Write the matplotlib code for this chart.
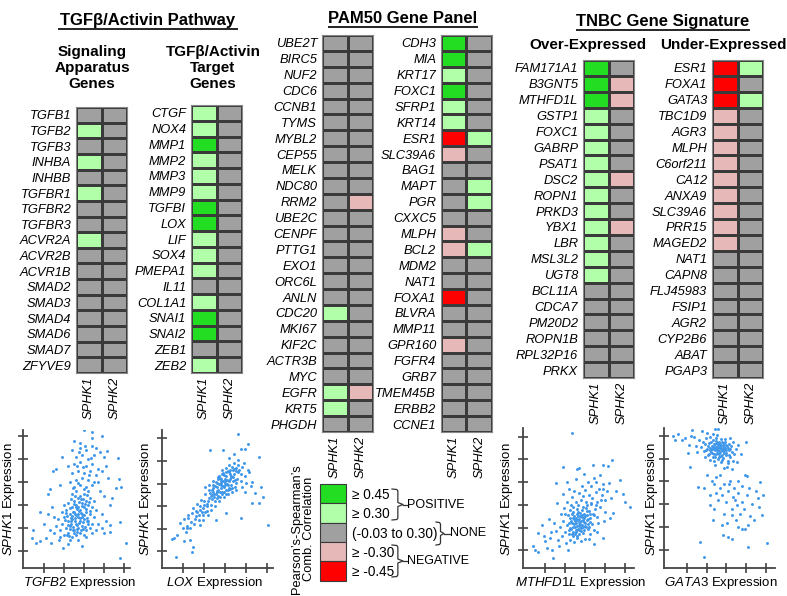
import numpy as np
import matplotlib
matplotlib.use("Agg")
import matplotlib.pyplot as plt
from matplotlib.colors import ListedColormap, BoundaryNorm
from matplotlib.patches import Rectangle

plt.rcParams['font.family'] = ['Liberation Sans', 'DejaVu Sans']
plt.rcParams['mathtext.fontset'] = 'custom'
plt.rcParams['mathtext.rm'] = 'Liberation Sans'
plt.rcParams['mathtext.it'] = 'Liberation Sans:italic'
plt.rcParams['mathtext.bf'] = 'Liberation Sans:bold'

# ---------------- data ----------------
col_labels = ["SPHK1", "SPHK2"]

sig_genes = ["TGFB1", "TGFB2", "TGFB3", "INHBA", "INHBB", "TGFBR1", "TGFBR2", "TGFBR3",
             "ACVR2A", "ACVR2B", "ACVR1B", "SMAD2", "SMAD3", "SMAD4", "SMAD6", "SMAD7", "ZFYVE9"]
sig_sphk1 = [0, 1, 0, 1, 0, 1, 0, 0, 1, 0, 0, 0, 0, 0, 0, 0, 0]
sig_sphk2 = [0, 0, 0, 0, 0, 0, 0, 0, 0, 0, 0, 0, 0, 0, 0, 0, 0]

tgt_genes = ["CTGF", "NOX4", "MMP1", "MMP2", "MMP3", "MMP9", "TGFBI", "LOX", "LIF", "SOX4",
             "PMEPA1", "IL11", "COL1A1", "SNAI1", "SNAI2", "ZEB1", "ZEB2"]
tgt_sphk1 = [1, 1, 2, 1, 1, 1, 2, 2, 1, 1, 1, 0, 1, 2, 2, 0, 1]
tgt_sphk2 = [0, 0, 0, 0, 0, 0, 0, 0, 0, 0, 0, 0, 0, 0, 0, 0, 0]

pam_a_genes = ["UBE2T", "BIRC5", "NUF2", "CDC6", "CCNB1", "TYMS", "MYBL2", "CEP55", "MELK",
               "NDC80", "RRM2", "UBE2C", "CENPF", "PTTG1", "EXO1", "ORC6L", "ANLN", "CDC20",
               "MKI67", "KIF2C", "ACTR3B", "MYC", "EGFR", "KRT5", "PHGDH"]
pam_a_sphk1 = [0, 0, 0, 0, 0, 0, 0, 0, 0, 0, 0, 0, 0, 0, 0, 0, 0, 1, 0, 0, 0, 0, 1, 1, 0]
pam_a_sphk2 = [0, 0, 0, 0, 0, 0, 0, 0, 0, 0, -1, 0, 0, 0, 0, 0, 0, 0, 0, 0, 0, 0, -1, 0, 0]

pam_b_genes = ["CDH3", "MIA", "KRT17", "FOXC1", "SFRP1", "KRT14", "ESR1", "SLC39A6", "BAG1",
               "MAPT", "PGR", "CXXC5", "MLPH", "BCL2", "MDM2", "NAT1", "FOXA1", "BLVRA",
               "MMP11", "GPR160", "FGFR4", "GRB7", "TMEM45B", "ERBB2", "CCNE1"]
pam_b_sphk1 = [2, 2, 1, 2, 1, 1, -2, -1, 0, 0, 0, 0, -1, -1, 0, 0, -2, 0, 0, -1, 0, 0, 0, 0, 0]
pam_b_sphk2 = [0, 0, 0, 0, 0, 0, 1, 0, 0, 1, 1, 0, 0, 1, 0, 0, 0, 0, 0, 0, 0, 0, 0, 0, 0]

over_genes = ["FAM171A1", "B3GNT5", "MTHFD1L", "GSTP1", "FOXC1", "GABRP", "PSAT1", "DSC2",
              "ROPN1", "PRKD3", "YBX1", "LBR", "MSL3L2", "UGT8", "BCL11A", "CDCA7", "PM20D2",
              "ROPN1B", "RPL32P16", "PRKX"]
over_sphk1 = [2, 2, 2, 1, 1, 1, 1, 1, 1, 1, 1, 1, 1, 1, 0, 0, 0, 0, 0, 0]
over_sphk2 = [0, -1, -1, 0, 0, 0, 0, -1, 0, 0, -1, 0, 0, 0, 0, 0, 0, 0, 0, 0]

under_genes = ["ESR1", "FOXA1", "GATA3", "TBC1D9", "AGR3", "MLPH", "C6orf211", "CA12", "ANXA9",
               "SLC39A6", "PRR15", "MAGED2", "NAT1", "CAPN8", "FLJ45983", "FSIP1", "AGR2",
               "CYP2B6", "ABAT", "PGAP3"]
under_sphk1 = [-2, -2, -2, -1, -1, -1, -1, -1, -1, -1, -1, -1, 0, 0, 0, 0, 0, 0, 0, 0]
under_sphk2 = [1, 0, 1, 0, 0, 0, 0, 0, 0, 0, 0, 0, 0, 0, 0, 0, 0, 0, 0, 0]

legend_levels = [2, 1, 0, -1, -2]
legend_labels = ["\u2265 0.45", "\u2265 0.30", "(-0.03 to 0.30)", "\u2265 -0.30", "\u2265 -0.45"]
legend_groups = ["POSITIVE", "NONE", "NEGATIVE"]

# scatter points (in tick units)
tgfb2_pts = [
    (2.0,1.7),(2.2,1.8),(2.4,1.6),(2.6,1.7),(2.8,1.8),(3.0,1.7),(2.1,2.0),(2.3,2.1),(2.5,1.9),(2.7,2.0),
    (2.9,2.1),(3.1,1.9),(3.3,2.0),(1.9,2.2),(2.2,2.3),(2.4,2.4),(2.6,2.2),(2.8,2.3),(3.0,2.4),(3.2,2.3),
    (3.4,2.2),(2.0,2.5),(2.3,2.6),(2.5,2.7),(2.7,2.5),(2.9,2.6),(3.1,2.7),(3.3,2.6),(3.5,2.5),(2.1,2.8),
    (2.4,2.9),(2.6,3.0),(2.8,2.8),(3.0,2.9),(3.2,3.0),(3.4,2.9),(2.2,3.1),(2.5,3.2),(2.7,3.3),(2.9,3.1),
    (3.1,3.2),(3.3,3.3),(2.4,3.5),(2.6,3.6),(2.8,3.4),(3.0,3.5),(3.2,3.6),(1.8,1.9),(1.7,2.4),(1.9,2.7),
    (2.3,1.5),(2.7,1.5),(3.1,1.6),(3.4,1.8),(1.6,2.1),(1.5,1.8),(1.8,1.6),(2.0,3.0),(3.6,2.8),(3.5,3.2),
    (2.55,2.45),(2.75,2.75),(2.35,2.2),(2.95,2.25),(2.65,1.95),(2.45,2.05),(2.15,2.55),(3.05,3.05),
    (2.85,3.25),(2.25,1.65),(2.52,2.32),(2.68,2.62),(2.88,2.48),(2.42,2.72),(2.62,2.85),(2.32,2.42),
    (2.12,1.72),(2.28,1.95),(2.47,1.78),(2.63,2.12),(2.82,1.93),(3.02,2.05),(3.18,2.18),(2.05,2.35),
    (2.18,2.12),(2.38,2.52),(2.58,2.58),(2.78,2.42),(2.98,2.58),(3.15,2.45),(3.28,2.75),(2.08,2.68),
    (2.28,2.88),(2.48,3.05),(2.68,2.92),(2.88,2.95),(3.08,2.82),(3.22,3.15),(2.36,3.25),(2.56,3.42),
    (2.76,3.15),(2.96,3.28),(3.12,3.45),(2.62,1.82),(2.42,1.92),(2.72,2.22),(2.92,1.95),(3.12,2.32),
    (2.52,2.62),(2.32,2.32),(2.84,2.65),(2.6,2.9),(2.44,3.75),(2.7,3.95),(3.0,3.7),(3.25,4.3),
    (2.95,4.65),(2.75,5.3),(3.05,5.6),(2.65,4.7),(3.35,5.05),
    (2.5,3.8),(2.8,3.9),(3.1,3.8),(3.4,3.9),(2.6,4.1),(2.9,4.2),(3.2,4.1),(3.5,4.0),(2.4,4.4),(2.7,4.5),
    (3.0,4.4),(3.3,4.5),(3.6,4.3),(2.5,4.8),(2.8,4.9),(3.1,4.7),(3.4,4.8),(3.7,4.6),(2.6,5.1),(2.9,5.2),
    (3.2,5.0),(3.5,5.2),(2.4,5.4),(2.8,5.5),(3.1,5.4),(3.4,5.6),(2.5,5.8),(2.8,5.7),(3.0,6.3),(3.4,6.2),
    (3.4,5.95),(3.9,6.0),(3.8,5.3),(3.9,4.5),(2.3,4.0),(2.2,4.7),(3.7,4.0),(3.6,5.5),(4.0,5.1),
    (1.9,5.1),(1.45,4.5),(1.6,4.6),(1.3,3.7),(1.8,3.9),(0.8,2.7),(1.2,3.5),(0.45,1.9),(0.4,1.55),
    (0.6,1.35),(0.8,1.45),(1.1,1.55),(1.35,1.35),(1.95,1.15),(1.75,1.5),(1.0,2.2),(1.2,2.6),(1.4,2.9),
    (1.3,1.9),(1.5,2.5),(2.9,1.2),(2.2,1.3),
    (4.7,5.05),(4.15,5.35),(4.75,4.15),(4.85,3.8),(4.6,3.75),(4.3,3.0),(4.3,1.85),(4.8,2.25),(5.1,1.35),
    (4.8,0.7),(4.1,4.7),(4.3,2.15),(4.0,3.4),(3.9,2.6),(4.1,2.3),(3.8,3.6),(4.2,4.2),(3.9,2.0),(4.0,1.8),
    (3.7,2.2),(3.6,1.9),(4.4,3.3)]

lox_pts = [
    (3.65,6.2),(4.13,5.74),(3.78,5.53),(3.97,5.53),(4.65,5.16),(2.3,5.49),(2.9,5.49),(4.73,3.87),
    (4.84,3.43),(4.65,3.13),(4.29,3.13),(5.08,2.15),(3.76,2.5),(4.44,3.57),(0.48,1.56),(0.6,1.6),
    (0.71,1.74),(0.68,0.74),(1.51,1.22),(1.35,1.51),(1.19,2.03),(0.87,2.25),(1.27,2.47),(1.45,0.98),
    (1.05,1.45),(3.2,5.15),(3.45,5.3),(4.1,4.6),(4.3,4.05),(3.05,2.7),(2.6,2.4),
    (1.02,2.05),(1.08,2.42),(1.21,2.12),(1.24,2.63),(1.18,1.88),(1.38,2.31),(1.43,2.72),(1.36,2.02),
    (1.47,2.91),(1.58,2.43),(1.63,2.81),(1.55,2.21),(1.66,3.12),(1.61,2.58),(1.78,2.63),(1.83,3.02),
    (1.76,2.41),(1.87,3.28),(1.81,2.84),(1.84,2.18),(1.97,2.93),(2.03,3.21),(1.96,2.62),(2.07,3.52),
    (2.01,3.04),(1.98,2.41),(2.04,3.83),(2.17,3.03),(2.23,3.38),(2.16,2.81),(2.24,3.71),(2.19,3.22),
    (2.27,3.92),(2.21,2.63),(2.38,3.31),(2.43,3.62),(2.36,3.04),(2.44,3.93),(2.41,3.48),(2.46,4.12),
    (2.35,2.82),(2.42,3.79),(2.58,3.52),(2.63,3.83),(2.56,3.21),(2.64,4.04),(2.61,3.68),(2.66,4.31),
    (2.55,3.02),(2.62,3.61),(2.67,4.19),(2.78,3.63),(2.83,3.92),(2.76,3.41),(2.84,4.22),(2.81,3.81),
    (2.86,4.43),(2.75,3.22),(2.82,4.02),(2.87,4.62),(2.98,3.83),(3.03,4.11),(2.96,3.62),(3.04,4.33),
    (3.01,3.94),(3.06,4.52),(2.95,3.41),(3.02,4.03),(3.07,4.71),(3.18,3.92),(3.23,4.21),(3.16,3.73),
    (3.24,4.43),(3.21,4.12),(3.26,4.62),(3.15,3.52),(3.22,4.83),(3.38,4.13),(3.43,4.42),(3.36,3.82),
    (3.44,4.63),(3.41,4.31),(3.46,4.92),(3.35,3.63),(3.58,4.22),(3.63,4.53),(3.56,4.01),(3.64,4.82),
    (3.61,5.03),(3.55,3.72),(3.78,4.41),(3.83,4.72),(3.76,4.12),(3.84,3.83),(3.98,4.33),(4.03,4.02),
    (3.96,3.62),(4.18,4.52),(4.23,3.91),(2.5,3.4),(2.7,3.7),(2.9,3.9),(3.1,4.0),(3.3,4.3),(2.8,4.1),
    (3.0,4.2),(3.2,3.8),
    (2.48,3.55),(2.52,3.88),(2.68,3.45),(2.72,3.98),(2.74,4.35),(2.88,3.62),(2.92,4.12),(2.94,4.48),
    (3.08,3.72),(3.12,4.18),(3.14,4.55),(3.28,3.95),(3.32,4.35),(3.34,4.75),(3.48,4.15),(3.52,4.55),
    (2.33,3.45),(2.39,3.72),(2.57,4.08),(2.78,4.25),(2.99,4.38),(3.19,4.5),(3.39,4.6),(2.62,3.35),
    (2.85,3.55),(3.05,3.55),(3.27,3.75),(3.5,3.85),(2.15,3.1),(2.3,3.6),(1.9,2.75),(1.7,2.75),
    (2.05,2.75),(3.7,4.6),(3.9,4.9),(3.55,4.7)]

mthfd1l_pts = [
    (2.33,6.15),(4.33,4.98),(3.88,4.76),(4.75,4.1),(5.25,2.93),(5.0,3.15),(1.92,4.68),(1.55,3.95),
    (2.72,4.61),(2.6,4.6),(3.4,4.75),(4.15,4.7),(0.5,1.0),(0.42,1.18),(0.67,0.93),(1.42,0.66),
    (0.83,2.13),(0.67,1.76),(1.25,1.55),(1.33,1.03),(3.88,1.54),(3.45,1.28),(4.25,2.42),(4.42,2.65),
    (4.9,3.5),(4.55,3.6),(1.6,3.1),(1.9,3.5),(2.1,4.0),(2.2,3.7),(1.2,2.4),(1.0,1.4),
    (2.02,1.82),(2.11,2.13),(2.18,1.71),(2.23,2.41),(2.31,1.93),(2.36,2.22),(2.42,1.64),(2.47,2.53),
    (2.51,2.04),(2.56,1.83),(2.62,2.33),(2.67,2.71),(2.72,1.92),(2.77,2.18),(2.83,2.47),(2.88,1.76),
    (2.93,2.61),(2.98,2.08),(3.03,2.88),(3.08,2.32),(3.13,1.96),(3.18,2.72),(3.24,2.43),(3.29,3.03),
    (3.34,2.15),(3.39,2.62),(2.14,2.55),(2.27,2.76),(2.38,2.92),(2.53,3.11),(2.66,2.98),(2.79,3.23),
    (2.91,3.38),(3.06,3.15),(3.21,3.44),(3.36,3.32),(3.48,2.83),(3.53,3.58),(3.62,3.12),(3.71,3.71),
    (3.77,2.92),(3.84,3.42),(3.92,3.93),(4.02,3.22),(4.08,3.61),(4.18,3.98),(3.58,2.48),(3.67,2.21),
    (3.47,1.91),(3.26,1.73),(3.02,1.52),(2.81,1.41),(2.61,1.55),(2.44,1.38),(2.24,1.48),(2.04,1.32),
    (1.84,1.62),(1.74,2.01),(1.88,2.28),(1.66,1.44),(1.56,1.86),(1.46,2.21),(1.79,2.62),(1.94,2.88),
    (2.12,3.13),(2.33,3.34),(2.47,3.62),(2.71,3.52),(2.86,3.83),(3.01,3.67),(3.17,4.02),(3.32,3.82),
    (3.44,4.18),(3.57,4.01),(3.74,4.31),(2.57,4.14),(2.95,4.38),(2.46,2.37),(2.58,2.08),(2.71,2.26),
    (2.84,2.11),(2.97,2.42),(3.11,2.57),(2.69,1.71),(2.53,1.88),(2.41,2.01),(2.76,2.51),(2.89,2.33),
    (3.16,2.18),(2.96,1.88),(2.35,2.62),(2.62,2.82),(2.84,2.79),(1.32,1.82),(1.12,1.12),(0.95,1.62),
    (1.7,1.2),(2.15,1.0),(3.2,1.5),(3.6,1.8),(4.0,2.7),(3.95,2.3),(4.3,3.3),(2.25,2.0),(2.4,1.8),
    (2.55,2.2),(2.8,2.0),(3.0,2.2),(2.7,2.4),
    (2.22,1.88),(2.28,2.28),(2.34,1.74),(2.39,2.44),(2.45,2.15),(2.49,1.71),(2.54,2.41),(2.59,2.62),
    (2.64,1.96),(2.68,2.14),(2.73,2.66),(2.79,1.85),(2.81,2.31),(2.86,2.57),(2.91,2.02),(2.94,2.24),
    (3.0,2.51),(3.05,2.04),(3.09,2.72),(3.14,2.38),(3.19,2.05),(3.23,2.61),(2.5,2.3),(2.65,2.5),
    (2.9,2.9),(3.1,3.0),(3.3,3.1),(2.4,2.7),(2.2,2.2),(2.6,1.65),(2.75,2.05),(3.25,2.25),(3.45,2.55),
    (3.55,3.0),(2.3,3.0),(2.0,2.6),(3.8,3.2),(3.9,3.7)]

gata3_pts = [
    (1.72,5.51),(1.81,5.73),(1.86,5.32),(1.92,5.62),(1.97,5.88),(2.03,5.41),(2.07,5.17),(2.12,5.69),
    (2.16,5.93),(2.21,5.28),(2.26,5.55),(2.31,5.06),(2.34,5.79),(2.38,5.43),(2.42,5.62),(2.46,5.21),
    (2.49,5.91),(2.53,5.36),(2.56,5.52),(2.59,4.98),(2.62,5.74),(2.65,5.31),(2.68,5.47),(2.71,5.12),
    (2.74,5.83),(2.77,5.38),(2.81,5.59),(2.84,5.02),(2.87,5.26),(2.91,5.71),(2.94,5.44),(2.98,5.14),
    (3.02,5.53),(3.06,4.91),(3.11,5.36),(3.16,5.62),(3.21,5.08),(3.27,5.29),(3.33,4.88),(3.41,5.18),
    (3.48,5.43),(2.44,5.36),(2.58,5.44),(2.69,5.62),(2.52,5.68),(2.36,5.18),(2.82,5.31),(2.63,5.18),
    (2.48,5.49),(2.74,5.56),(2.28,5.42),(2.15,5.36),(2.95,5.85),(2.55,6.02),(2.35,6.08),(2.0,6.1),
    (3.2,5.9),(3.6,5.6),(3.75,5.2),(3.55,4.85),(2.2,4.95),(2.45,4.72),(2.75,4.85),(3.05,4.65),
    (1.9,5.05),(1.6,5.8),(1.5,5.3),(4.0,5.7),(3.3,4.55),(2.9,4.6),(2.6,5.6),(2.4,5.5),(2.85,5.45),
    (2.05,5.55),(2.18,5.48),(2.24,5.71),(2.3,5.25),(2.39,5.64),(2.44,5.08),(2.5,5.78),(2.54,5.24),
    (2.6,5.38),(2.66,5.58),(2.7,5.28),(2.76,5.7),(2.8,5.15),(2.86,5.52),(2.9,5.36),(2.96,5.6),
    (3.0,5.24),(3.08,5.46),(3.14,5.16),(3.2,5.4),(2.34,5.52),(2.56,5.62),(2.72,5.41),(2.88,5.68),
    (2.46,5.44),(2.62,5.05),(2.98,5.38),(3.25,5.55),(2.1,5.2),(1.95,5.35),(3.35,5.7),(2.4,4.9),
    (2.8,4.95),(3.1,4.8),
    (0.41,5.81),(0.58,6.06),(0.33,5.96),(0.75,5.82),(1.25,6.25),(1.76,6.2),(2.43,6.29),(2.6,6.28),
    (1.08,5.23),(1.17,4.64),(1.1,5.6),(1.35,5.95),(1.45,5.55),(1.2,6.0),(0.9,5.9),
    (2.0,4.28),(2.68,3.7),(3.35,3.33),(4.03,3.4),(4.7,3.99),(4.87,3.4),(4.66,2.9),(4.78,2.53),
    (2.18,2.97),(2.4,2.8),(2.34,2.31),(2.76,2.09),(2.85,1.66),(3.1,1.58),(3.27,1.51),(3.77,1.95),
    (3.94,1.95),(4.1,2.1),(1.59,3.77),(1.85,3.7),(1.67,1.36),(1.89,0.71),(4.1,1.15),(5.07,1.34),
    (3.27,2.53),(3.52,2.97),(3.94,4.28),(4.03,4.26),(2.3,4.0),(2.5,4.2),(2.7,4.3),(2.9,3.9),
    (3.1,3.6),(3.2,4.0),(3.4,3.7),(3.6,3.5),(3.8,3.1),(3.7,2.6),(3.0,3.1),(3.3,2.8),(3.5,2.3),
    (2.6,3.2),(2.9,2.6),(3.6,2.0),(4.3,3.0),(4.5,3.6),(4.2,2.5),(4.4,2.3),(3.9,2.8),(4.6,3.3),
    (2.5,3.5),(2.8,3.4),(3.15,3.9),(3.45,3.2),(3.05,2.2),(3.8,3.8),(4.15,3.7),(2.4,3.9),(2.2,3.4),
    (3.6,4.0)]

# ---------------- styling ----------------
W, H = 787, 596
fig = plt.figure(figsize=(W / 100, H / 100), dpi=100)

level_colors = ['#ff0000', '#e6b8b8', '#a0a0a0', '#b2ffaa', '#22dd22']
cmap = ListedColormap(level_colors)
norm = BoundaryNorm([-2.5, -1.5, -0.5, 0.5, 1.5, 2.5], 5)
level_to_color = {-2: level_colors[0], -1: level_colors[1], 0: level_colors[2],
                  1: level_colors[3], 2: level_colors[4]}
GENE_FS = 9.3


def px_axes(x0, y0, x1, y1):
    return fig.add_axes([x0 / W, 1 - y1 / H, (x1 - x0) / W, (y1 - y0) / H])


ov = fig.add_axes([0, 0, 1, 1])
ov.set_xlim(0, W)
ov.set_ylim(H, 0)
ov.axis('off')


def heatmap(rect, genes, s1, s2):
    ax = px_axes(*rect)
    vals = np.array([s1, s2]).T
    n = len(genes)
    ax.pcolormesh(np.arange(3), np.arange(n + 1), vals, cmap=cmap, norm=norm,
                  edgecolors='#3a3a3a', linewidth=0.8)
    ax.set_xlim(0, 2)
    ax.set_ylim(n, 0)
    ax.set_yticks(np.arange(n) + 0.5)
    ax.set_yticklabels(genes, fontsize=GENE_FS, style='italic')
    ax.set_xticks([0.5, 1.5])
    ax.set_xticklabels(col_labels, rotation=90, fontsize=GENE_FS, style='italic', va='top')
    ax.tick_params(axis='y', length=0, pad=3.5)
    ax.tick_params(axis='x', length=0, pad=3)
    for sp in ax.spines.values():
        sp.set_color('#888888')
        sp.set_linewidth(0.8)
    return ax


heatmap((76, 107, 127, 373), sig_genes, sig_sphk1, sig_sphk2)
heatmap((191, 105, 242, 373), tgt_genes, tgt_sphk1, tgt_sphk2)
heatmap((322, 35, 373, 432), pam_a_genes, pam_a_sphk1, pam_a_sphk2)
heatmap((441, 35, 492, 432), pam_b_genes, pam_b_sphk1, pam_b_sphk2)
heatmap((583, 60, 634, 378), over_genes, over_sphk1, over_sphk2)
heatmap((712, 60, 763, 378), under_genes, under_sphk1, under_sphk2)


def scatter(rect, xlim, ylim, pts):
    ax = px_axes(*rect)
    x, y = zip(*pts)
    ax.scatter(x, y, s=4.5, color='#3f97e9', linewidths=0)
    ax.set_xlim(*xlim)
    ax.set_ylim(*ylim)
    ax.set_xticks([1, 2, 3, 4, 5])
    ax.set_yticks([1, 2, 3, 4, 5, 6])
    ax.set_xticklabels([])
    ax.set_yticklabels([])
    ax.tick_params(direction='inout', length=7, width=1.2, color='#444444')
    ax.spines['top'].set_visible(False)
    ax.spines['right'].set_visible(False)
    for s in ('left', 'bottom'):
        ax.spines[s].set_color('#444444')
        ax.spines[s].set_linewidth(1.3)
    ax.patch.set_alpha(0)
    return ax


scatter((23.3, 430, 130, 568), (-0.05, 5.29), (0.26, 6.28), tgfb2_pts)
scatter((161.7, 430, 273, 568), (0.0, 5.3), (0.27, 6.37), lox_pts)
scatter((523.3, 428, 634, 568), (-0.08, 5.45), (0.23, 6.38), mthfd1l_pts)
scatter((664, 428, 775, 568), (-0.15, 5.46), (0.23, 6.33), gata3_pts)

# scatter axis labels
for xc in (9, 146, 507, 652):
    ov.text(xc, 499, r"$\mathit{SPHK1}$ Expression", rotation=90, ha='center', va='center', fontsize=9.5)
for xc, gname in ((80, "TGFB2"), (214, "LOX"), (581, "MTHFD1L"), (721, "GATA3")):
    ov.text(xc, 583, r"$\mathit{" + gname + r"}$ Expression", ha='center', va='center', fontsize=9.5)

# titles
for (x0, x1, yt, yu, txt) in ((58, 238, 20.5, 29, "TGF\u03b2/Activin Pathway"),
                              (328, 478, 18.5, 27, "PAM50 Gene Panel"),
                              (576, 750, 21.5, 30, "TNBC Gene Signature")):
    ov.text((x0 + x1) / 2, yt, txt, ha='center', va='center', fontsize=12, fontweight='bold')
    ov.plot([x0, x1], [yu, yu], color='black', lw=1.2, solid_capstyle='butt')

ov.text(92, 68, "Signaling\nApparatus\nGenes", ha='center', va='center', fontsize=11,
        fontweight='bold', linespacing=1.15)
ov.text(213, 68, "TGF\u03b2/Activin\nTarget\nGenes", ha='center', va='center', fontsize=11,
        fontweight='bold', linespacing=1.15)
ov.text(588, 45, "Over-Expressed", ha='center', va='center', fontsize=11, fontweight='bold')
ov.text(723, 45, "Under-Expressed", ha='center', va='center', fontsize=11, fontweight='bold')

# legend
box_x0, box_x1 = 319.5, 346
box_tops = [484, 503.3, 522.6, 541.9, 561.2]
box_h = 19.3
for lvl, lab, top in zip(legend_levels, legend_labels, box_tops):
    ov.add_patch(Rectangle((box_x0, top), box_x1 - box_x0, box_h,
                           facecolor=level_to_color[lvl], edgecolor='#3a3a3a', lw=0.8))
    ov.text(351.5, top + box_h / 2 + 1.5, lab, ha='left', va='center', fontsize=9.8)

ov.text(303, 529, "Pearson\u2019s-Spearman\u2019s\nComb. Correlation", rotation=90,
        ha='center', va='center', fontsize=9.3, linespacing=1.1)


def brace(x0, y0, y1, xt, text_x, label):
    ym = (y0 + y1) / 2
    xv = x0 + 0.45 * (xt - x0)
    xs = [x0, xv - 1, xv, xv, xt - 2, xv, xv, xv - 1, x0]
    ys = [y0, y0 + 0.5, y0 + 2, ym - 2, ym, ym + 2, y1 - 2, y1 - 0.5, y1]
    ov.plot(xs, ys, color='#333333', lw=0.9)
    ov.plot([xt - 2, text_x], [ym, ym], color='#333333', lw=0.9)
    ov.text(text_x, ym, label, ha='left', va='center', fontsize=9)


brace(392, 489, 520, 405, 407, legend_groups[0])
brace(436, 522, 545, 446, 450, legend_groups[1])
brace(392, 545, 577, 405, 407, legend_groups[2])

fig.savefig("out.png", dpi=100)
